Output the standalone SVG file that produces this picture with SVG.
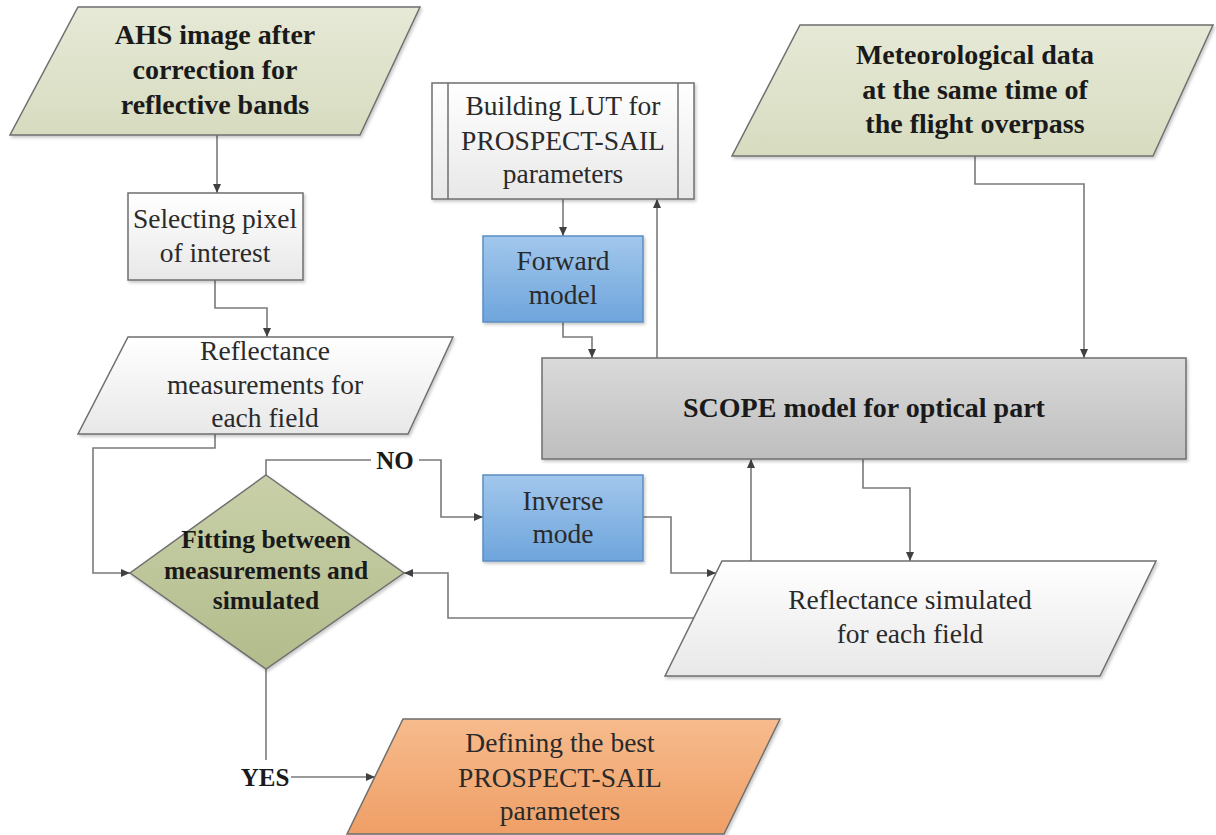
<svg xmlns="http://www.w3.org/2000/svg" width="1216" height="835" viewBox="0 0 1216 835">
  <defs>
    <linearGradient id="gGreen" x1="0" y1="0" x2="0" y2="1">
      <stop offset="0" stop-color="#e6e9d6"/>
      <stop offset="1" stop-color="#d7dcc0"/>
    </linearGradient>
    <linearGradient id="gDiamond" x1="0" y1="0" x2="0" y2="1">
      <stop offset="0" stop-color="#c9d0a9"/>
      <stop offset="1" stop-color="#b2bc8b"/>
    </linearGradient>
    <linearGradient id="gBlue" x1="0" y1="0" x2="0" y2="1">
      <stop offset="0" stop-color="#a2c7ec"/>
      <stop offset="1" stop-color="#6ea5dc"/>
    </linearGradient>
    <linearGradient id="gLight" x1="0" y1="0" x2="0" y2="1">
      <stop offset="0" stop-color="#ffffff"/>
      <stop offset="1" stop-color="#e8e8e8"/>
    </linearGradient>
    <linearGradient id="gScope" x1="0" y1="0" x2="0" y2="1">
      <stop offset="0" stop-color="#dadada"/>
      <stop offset="1" stop-color="#bebebe"/>
    </linearGradient>
    <linearGradient id="gOrange" x1="0" y1="0" x2="0" y2="1">
      <stop offset="0" stop-color="#f7bb8d"/>
      <stop offset="1" stop-color="#ef9f66"/>
    </linearGradient>
    <filter id="shadow" x="-5%" y="-5%" width="115%" height="120%">
      <feDropShadow dx="1.5" dy="2" stdDeviation="1.5" flood-color="#000" flood-opacity="0.22"/>
    </filter>
    <marker id="arrow" markerUnits="userSpaceOnUse" markerWidth="9" markerHeight="8" refX="9" refY="4" orient="auto">
      <path d="M0,0 L9,4 L0,8 z" fill="#404040"/>
    </marker>
  </defs>
  <style>
    .shape { stroke: #6f6f6f; stroke-width: 1.5; filter: url(#shadow); }
    .blue { stroke: #5b8ec4; }
    .conn { fill: none; stroke: #7a7a7a; stroke-width: 1.6; }
    .arr { marker-end: url(#arrow); }
    text { font-family: "Liberation Serif", "Times New Roman", serif; text-anchor: middle; }
    .reg { font-size: 27.5px; fill: #2a2a2a; }
    .bold { font-size: 28px; font-weight: bold; fill: #1a1a1a; }
    .dia { font-size: 25.5px; font-weight: bold; fill: #1a1a1a; }
    .lbl { font-size: 25px; font-weight: bold; fill: #1a1a1a; }
  </style>

  <!-- connectors -->
  <g id="connectors">
    <path class="conn arr" d="M217,135 V193"/>
    <path class="conn arr" d="M215,280 V308 H267 V337"/>
    <path class="conn arr" d="M215,434 V448 H93 V573 H130"/>
    <path class="conn" d="M266,475 V460 H371"/>
    <path class="conn arr" d="M419,460 H441 V517 H483"/>
    <path class="conn" d="M266,669 V760"/>
    <path class="conn arr" d="M291,777 H375"/>
    <path class="conn arr" d="M563,199 V236"/>
    <path class="conn arr" d="M563,322 V337 H592 V358"/>
    <path class="conn arr" d="M657,358 V199"/>
    <path class="conn arr" d="M975,156 V184 H1084 V358"/>
    <path class="conn arr" d="M643,517 H671 V573 H716"/>
    <path class="conn arr" d="M751,561 V459"/>
    <path class="conn arr" d="M863,459 V488 H910 V561"/>
    <path class="conn arr" d="M694,618 H448 V573 H404"/>
    <text class="lbl" x="395" y="469">NO</text>
    <text class="lbl" x="265" y="786">YES</text>
  </g>

  <!-- input image -->
  <g id="ahs-image">
    <polygon class="shape" points="78,7 420,7 360,135 10,135" fill="url(#gGreen)"/>
    <text class="bold" x="215" y="44">AHS image after</text>
    <text class="bold" x="215" y="79">correction for</text>
    <text class="bold" x="215" y="114">reflective bands</text>
  </g>

  <g id="select-pixel">
    <rect class="shape" x="128" y="193" width="175" height="87" fill="url(#gLight)"/>
    <text class="reg" x="215" y="228">Selecting pixel</text>
    <text class="reg" x="215" y="262">of interest</text>
  </g>

  <g id="reflectance-measured">
    <polygon class="shape" points="128,337 453,337 408,434 78,434" fill="url(#gLight)"/>
    <text class="reg" x="265" y="360">Reflectance</text>
    <text class="reg" x="265" y="394">measurements for</text>
    <text class="reg" x="265" y="427">each field</text>
  </g>

  <g id="lut">
    <rect class="shape" x="432" y="83" width="262" height="116" fill="url(#gLight)"/>
    <line x1="448" y1="83" x2="448" y2="199" stroke="#6f6f6f" stroke-width="1.5"/>
    <line x1="678" y1="83" x2="678" y2="199" stroke="#6f6f6f" stroke-width="1.5"/>
    <text class="reg" x="563" y="115">Building LUT for</text>
    <text class="reg" x="563" y="150">PROSPECT-SAIL</text>
    <text class="reg" x="563" y="183">parameters</text>
  </g>

  <g id="forward-model">
    <rect class="shape blue" x="483" y="236" width="160" height="86" fill="url(#gBlue)"/>
    <text class="reg" x="563" y="270">Forward</text>
    <text class="reg" x="563" y="304">model</text>
  </g>

  <g id="meteo">
    <polygon class="shape" points="800,25 1213,25 1153,156 732,156" fill="url(#gGreen)"/>
    <text class="bold" x="975" y="64">Meteorological data</text>
    <text class="bold" x="975" y="99">at the same time of</text>
    <text class="bold" x="975" y="133">the flight overpass</text>
  </g>

  <g id="scope">
    <rect class="shape" x="542" y="358" width="644" height="101" fill="url(#gScope)"/>
    <text class="bold" x="864" y="417">SCOPE model for optical part</text>
  </g>

  <g id="fitting">
    <polygon class="shape" points="266,475 404,573 266,669 130,573" fill="url(#gDiamond)" stroke="#8e9a6a"/>
    <text class="dia" x="266" y="548">Fitting between</text>
    <text class="dia" x="266" y="579">measurements and</text>
    <text class="dia" x="266" y="609">simulated</text>
  </g>

  <g id="inverse-mode">
    <rect class="shape blue" x="483" y="475" width="160" height="86" fill="url(#gBlue)"/>
    <text class="reg" x="563" y="510">Inverse</text>
    <text class="reg" x="563" y="543">mode</text>
  </g>

  <g id="reflectance-simulated">
    <polygon class="shape" points="722,561 1156,561 1100,676 665,676" fill="url(#gLight)"/>
    <text class="reg" x="910" y="609">Reflectance simulated</text>
    <text class="reg" x="910" y="643">for each field</text>
  </g>

  <g id="best-parameters">
    <polygon class="shape" points="403,719 780,719 724,834 347,834" fill="url(#gOrange)" stroke="#9a7a62"/>
    <text class="reg" x="560" y="752">Defining the best</text>
    <text class="reg" x="560" y="787">PROSPECT-SAIL</text>
    <text class="reg" x="560" y="820">parameters</text>
  </g>
</svg>
